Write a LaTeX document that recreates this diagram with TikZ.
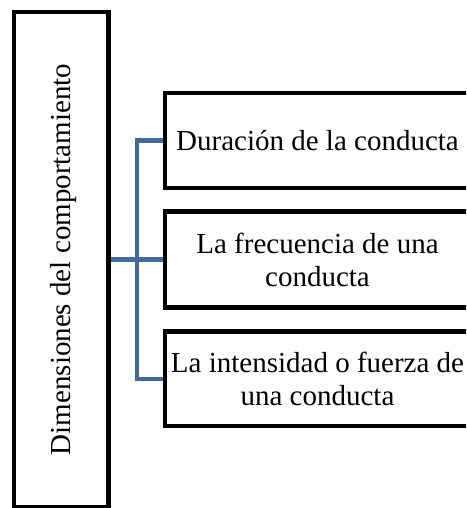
\documentclass[tikz,border=0pt]{standalone}
\usepackage{fontspec}
\setmainfont{Liberation Serif}
\usetikzlibrary{backgrounds}
\definecolor{linkblue}{RGB}{65,105,155}
\tikzset{
  box/.style={draw=black, line width=4.5pt, fill=white, inner sep=0pt, align=center,
    font=\fontsize{29}{33}\selectfont},
  link/.style={draw=linkblue, line width=4.5pt}
}
\begin{document}
\begin{tikzpicture}[x=1pt,y=-1pt]
\useasboundingbox (0,0) rectangle (466,508);
\clip (0,0) rectangle (466,508);
\node[box, minimum width=94.5pt, minimum height=495pt] (dim) at (61.25,259.5) {};
\node[rotate=90, font=\fontsize{29}{33}\selectfont] (dimt) at (64,259.5) {Dimensiones del comportamiento};
\node[box, minimum width=305pt, minimum height=95pt] (b1) at (317.5,140.5) {Duración de la conducta};
\node[box, minimum width=305pt, minimum height=96pt] (b2) at (317.5,259.5) {La frecuencia de una\\conducta};
\node[box, minimum width=305pt, minimum height=94.5pt] (b3) at (317.5,378.75) {La intensidad o fuerza de\\una conducta};
\coordinate (j) at (137,259.5);
\begin{scope}[on background layer]
\draw[link] (dim.east) -- (b2.west);
\draw[link] (b1.west) -| (j) |- (b3.west);
\end{scope}
\end{tikzpicture}
\end{document}
